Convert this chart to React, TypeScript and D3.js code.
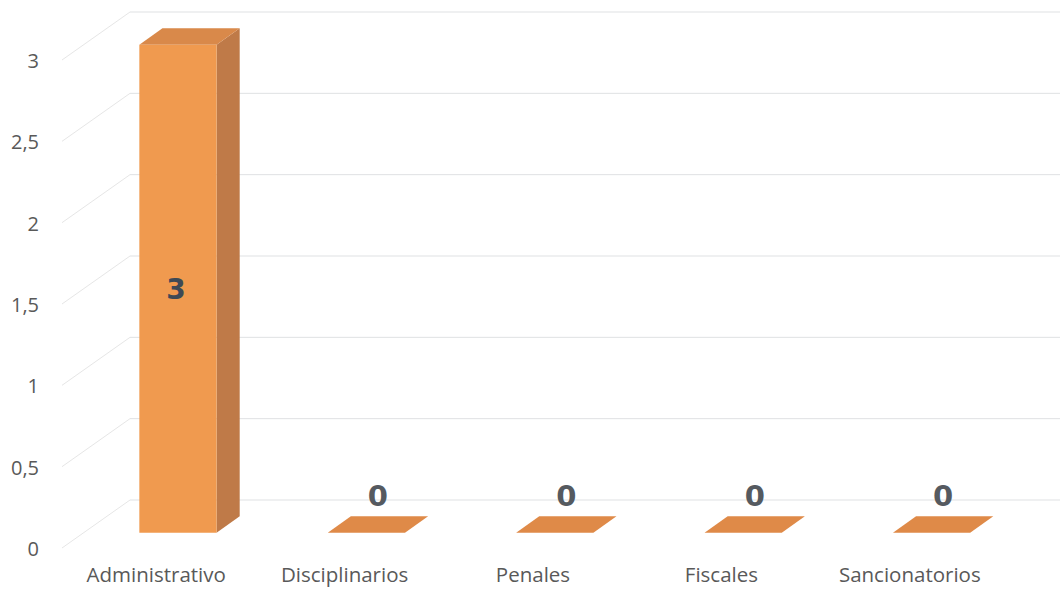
import React from "react";
import * as d3 from "d3";

const categories = ["Administrativo", "Disciplinarios", "Penales", "Fiscales", "Sancionatorios"];
const values = [3, 0, 0, 0, 0];
const yTicks = [0, 0.5, 1, 1.5, 2, 2.5, 3];
const yTickLabels = ["0", "0,5", "1", "1,5", "2", "2,5", "3"];

const W = 1060;
const H = 589;
const DX = 68; // depth offset x
const DY = 48; // depth offset y
const Z0 = 0.32;
const Z1 = 0.66;

export default function App() {
  const x = d3.scaleBand<string>().domain(categories).range([62, 1004]).paddingInner(0.59).paddingOuter(0.295);
  const y = d3.scaleLinear().domain([0, 3]).range([548, 60]);
  const px = (xv: number, z: number) => xv + z * DX;
  const py = (v: number, z: number) => y(v) - z * DY;
  const bw = x.bandwidth();
  const poly = (pts: [number, number][]) => pts.map((p) => p.join(",")).join(" ");
  const font = "'Open Sans', 'Noto Sans', sans-serif";

  return (
    <svg width={W} height={H} style={{ position: "absolute", left: 0, top: 0, background: "#fff" }}>
      <rect x={0} y={0} width={W} height={H} fill="#fff" />
      {/* side wall diagonals and back wall gridlines */}
      {yTicks.map((t) => (
        <g key={"g" + t}>
          <line x1={62} y1={y(t)} x2={px(62, 1)} y2={py(t, 1)} stroke="#e6e6e6" strokeWidth={1} />
          <line x1={px(62, 1)} y1={py(t, 1)} x2={W} y2={py(t, 1)} stroke="#dfe1e3" strokeWidth={1} />
        </g>
      ))}
      {/* y tick labels */}
      {yTicks.map((t, i) => (
        <text key={"t" + t} x={39} y={y(t) + 1} dy="0.35em" textAnchor="end" fontFamily={font} fontSize={20} fill="#595959">
          {yTickLabels[i]}
        </text>
      ))}
      {/* bars */}
      {categories.map((c, i) => {
        const v = values[i];
        const x0 = x(c)!;
        const x1 = x0 + bw;
        const cx = x0 + bw / 2;
        if (v > 0) {
          const front = poly([
            [px(x0, Z0), py(0, Z0)],
            [px(x1, Z0), py(0, Z0)],
            [px(x1, Z0), py(v, Z0)],
            [px(x0, Z0), py(v, Z0)],
          ]);
          const side = poly([
            [px(x1, Z0), py(0, Z0)],
            [px(x1, Z1), py(0, Z1)],
            [px(x1, Z1), py(v, Z1)],
            [px(x1, Z0), py(v, Z0)],
          ]);
          const top = poly([
            [px(x0, Z0), py(v, Z0)],
            [px(x1, Z0), py(v, Z0)],
            [px(x1, Z1), py(v, Z1)],
            [px(x0, Z1), py(v, Z1)],
          ]);
          return (
            <g key={c}>
              <polygon points={side} fill="#bf7a48" />
              <polygon points={top} fill="#d9894a" />
              <polygon points={front} fill="#f09a4f" />
              <text
                x={px(cx, Z0) - 2}
                y={(py(0, Z0) + py(v, Z0)) / 2}
                dy="0.36em"
                textAnchor="middle"
                fontFamily="'DejaVu Sans', sans-serif"
                fontWeight="bold"
                fontSize={28}
                fill="#3e4955"
              >
                {v}
              </text>
            </g>
          );
        }
        const slab = poly([
          [px(x0, Z0), py(0, Z0)],
          [px(x1, Z0), py(0, Z0)],
          [px(x1, Z1), py(0, Z1)],
          [px(x0, Z1), py(0, Z1)],
        ]);
        return (
          <g key={c}>
            <polygon points={slab} fill="#df8a48" />
            <text
              x={px(cx, (Z0 + Z1) / 2)}
              y={py(0, Z1) - 10}
              textAnchor="middle"
              fontFamily="'DejaVu Sans', sans-serif"
              fontWeight="bold"
              fontSize={29}
              fill="#555a60"
            >
              {v}
            </text>
          </g>
        );
      })}
      {/* category labels */}
      {categories.map((c) => (
        <text key={"l" + c} x={x(c)! + bw / 2} y={582} textAnchor="middle" fontFamily={font} fontSize={20.5} fill="#595959">
          {c}
        </text>
      ))}
    </svg>
  );
}
